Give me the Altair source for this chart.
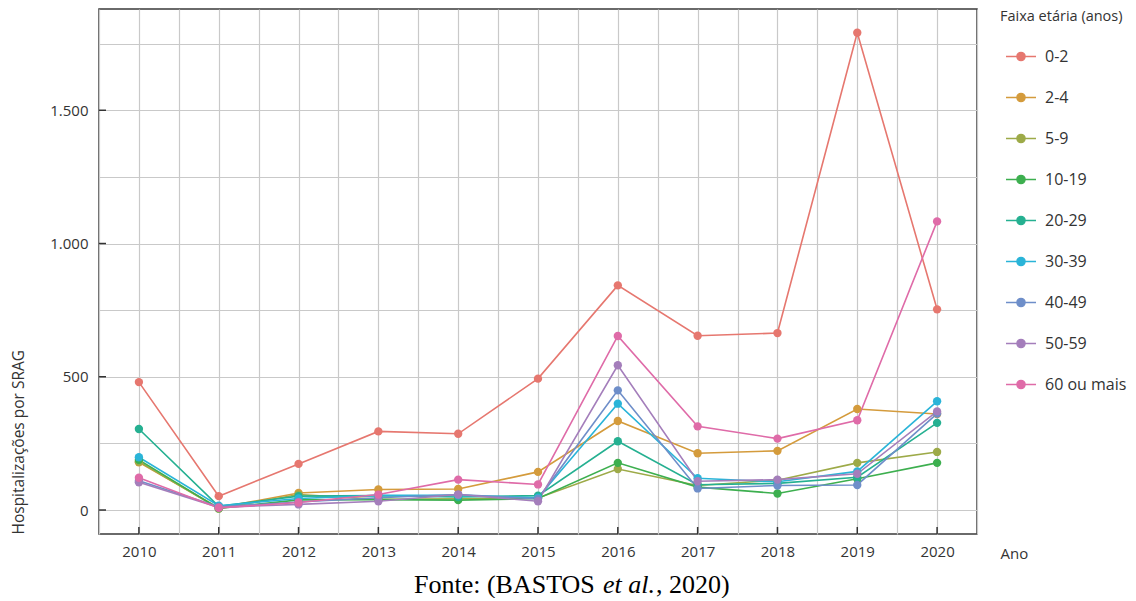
import altair as alt
import pandas as pd

# ---- data ----
years = [2010, 2011, 2012, 2013, 2014, 2015, 2016, 2017, 2018, 2019, 2020]
groups = ["0-2", "2-4", "5-9", "10-19", "20-29", "30-39", "40-49", "50-59", "60 ou mais"]

v_0_2 = [480, 52, 173, 295, 286, 493, 843, 654, 664, 1791, 753]
v_2_4 = [179, 8, 64, 77, 79, 143, 334, 213, 222, 379, 360]
v_5_9 = [182, 5, 58, 40, 42, 45, 154, 92, 112, 177, 218]
v_10_19 = [188, 6, 38, 39, 37, 43, 177, 86, 62, 117, 177]
v_20_29 = [304, 14, 52, 54, 49, 54, 258, 95, 100, 123, 327]
v_30_39 = [198, 16, 43, 55, 55, 46, 399, 119, 106, 145, 408]
v_40_49 = [110, 12, 30, 46, 58, 42, 449, 81, 92, 94, 362]
v_50_59 = [104, 10, 21, 33, 58, 33, 543, 108, 114, 136, 370]
v_60_mais = [121, 8, 28, 58, 114, 96, 653, 314, 268, 337, 1083]

colors = ["#E6776F", "#D49B3C", "#9DAA48", "#3DAF4F", "#25B091",
          "#2AB4D8", "#6E8EC9", "#A47EBB", "#DF6BA8"]

major_y = [0, 500, 1000, 1500]
caption_parts = ["Fonte: (BASTOS ", "et al.", ", 2020)"]

series = [v_0_2, v_2_4, v_5_9, v_10_19, v_20_29, v_30_39, v_40_49, v_50_59, v_60_mais]
rows = []
for g, vals in zip(groups, series):
    for yr, v in zip(years, vals):
        rows.append({"Ano": yr, "Faixa": g, "Hosp": v})
df = pd.DataFrame(rows)

FONT = "Open Sans"
TXT = "#333333"

x_scale = alt.Scale(domain=[2009.5, 2020.5], nice=False, zero=False)
y_scale = alt.Scale(domain=[-90, 1880], nice=False, zero=False)

x_vals = [2010 + 0.5 * i for i in range(-1, 22)]
y_vals = [250 * i for i in range(0, 8)]

x_axis = alt.Axis(
    values=x_vals,
    labelExpr="datum.value % 1 == 0 ? '' + datum.value : ''",
    tickSize=0, domain=False, labelPadding=10,
    grid=True, gridColor="#c9c9c9", gridWidth=1.2,
    labelFont=FONT, labelFontSize=15, labelColor=TXT,
    title="Ano", titleX=901, titleY=19, titleAlign="left", titleBaseline="middle",
    titleAnchor="start",
    titleFont=FONT, titleFontSize=15, titleFontWeight="normal", titleColor=TXT,
)
y_axis = alt.Axis(
    values=y_vals,
    labelExpr="datum.value % 500 == 0 ? replace(format(datum.value, ','), ',', '.') : ''",
    tickSize=0, domain=False, labelPadding=11,
    grid=True, gridColor="#c9c9c9", gridWidth=1.2,
    labelFont=FONT, labelFontSize=15, labelColor=TXT,
    title="Hospitalizações por SRAG", titleX=-81, titleY=525, titleAngle=-90,
    titleAlign="left", titleBaseline="middle",
    titleFont=FONT, titleFontSize=15.5, titleFontWeight="normal", titleColor=TXT,
)

legend = alt.Legend(
    title="Faixa etária (anos)", orient="none", legendX=901, legendY=1,
    symbolType="M-1,0H1M-0.27,0A0.27,0.27,0,1,1,0.27,0A0.27,0.27,0,1,1,-0.27,0",
    symbolSize=900, symbolStrokeWidth=1.5, symbolOffset=5, labelOffset=8,
    rowPadding=17, titlePadding=16, padding=0,
    labelFont=FONT, labelFontSize=16, labelColor=TXT,
    titleFont=FONT, titleFontSize=14.5, titleFontWeight="normal", titleColor=TXT,
    titleLimit=300,
)

lines = alt.Chart(df).mark_line(
    strokeWidth=1.6,
    point=alt.OverlayMarkDef(filled=True, size=70, opacity=1),
).encode(
    x=alt.X("Ano:Q", scale=x_scale, axis=x_axis),
    y=alt.Y("Hosp:Q", scale=y_scale, axis=y_axis),
    color=alt.Color("Faixa:N", scale=alt.Scale(domain=groups, range=colors),
                    sort=groups, legend=legend),
)

ticks_x = alt.Chart(pd.DataFrame({"Ano": years})).mark_rule(
    color="#333333", strokeWidth=1.5
).encode(
    x=alt.X("Ano:Q", scale=x_scale, axis=x_axis),
    y=alt.value(518), y2=alt.value(525),
)
ticks_y = alt.Chart(pd.DataFrame({"Hosp": major_y})).mark_rule(
    color="#333333", strokeWidth=1.5
).encode(
    y=alt.Y("Hosp:Q", scale=y_scale, axis=y_axis),
    x=alt.value(0), x2=alt.value(7),
)

cap_df = pd.DataFrame({"t": caption_parts})
cap1 = alt.Chart(cap_df).transform_filter(alt.datum.t == caption_parts[0]).mark_text(
    font="Liberation Serif", fontSize=26, color="#000000", align="left", baseline="alphabetic"
).encode(text="t:N", x=alt.value(315), y=alt.value(584))
cap2 = alt.Chart(cap_df).transform_filter(alt.datum.t == caption_parts[1]).mark_text(
    font="Liberation Serif", fontSize=26, fontStyle="italic", color="#000000",
    align="left", baseline="alphabetic"
).encode(text="t:N", x=alt.value(504), y=alt.value(584))
cap3 = alt.Chart(cap_df).transform_filter(alt.datum.t == caption_parts[2]).mark_text(
    font="Liberation Serif", fontSize=26, color="#000000", align="left", baseline="alphabetic"
).encode(text="t:N", x=alt.value(557), y=alt.value(584))

chart = alt.layer(lines, ticks_x, ticks_y, cap1, cap2, cap3).properties(
    width=878, height=525,
    background="white",
    autosize=alt.AutoSizeParams(type="none"),
    padding={"left": 91, "top": 1, "right": 150, "bottom": 64},
).configure_view(
    stroke="#3a3a3a", strokeWidth=1.5
).configure_axis(
    labelFont=FONT, labelFontSize=15, labelColor=TXT,
    titleFont=FONT, titleFontSize=15.5, titleFontWeight="normal", titleColor=TXT,
)

chart.save("out.html", embed_options={"renderer": "svg", "actions": False})
